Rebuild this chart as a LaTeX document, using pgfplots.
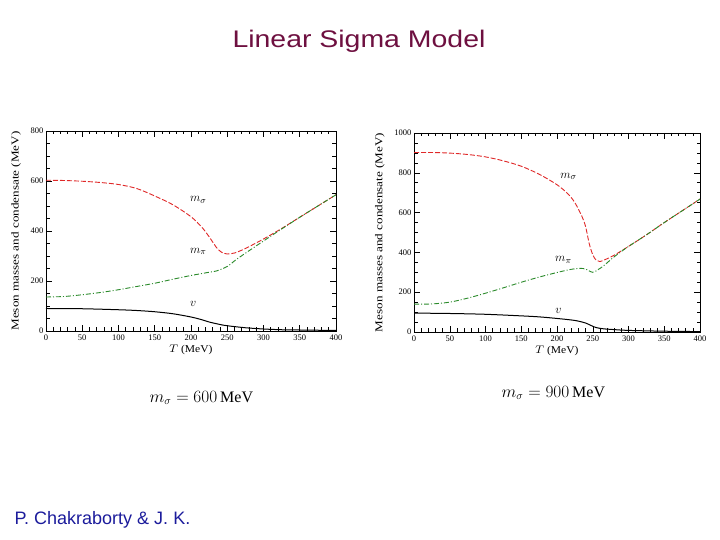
\documentclass[border=0pt]{standalone}
\usepackage{pgfplots}
\pgfplotsset{compat=1.18}
\usepackage{fontspec}
\setmainfont{Liberation Serif}
\newfontfamily\slidefont{Liberation Sans}
\definecolor{titlecol}{HTML}{6E1040}
\definecolor{authcol}{HTML}{1C1C9C}
\definecolor{sigred}{HTML}{E02828}
\definecolor{pigreen}{HTML}{2A8A2A}

\tikzset{curvelabel/.style={font=\fontsize{13}{14}\selectfont}}

\pgfplotsset{
  mesonaxis/.style={
    scale only axis,
    anchor=south west,
    xmin=0, xmax=400,
    ymin=0,
    xtick={0,50,...,400},
    minor x tick num=4,
    minor y tick num=3,
    tick align=inside,
    major tick length=6pt,
    minor tick length=3.5pt,
    every tick/.style={black, line width=0.5pt},
    axis line style={line width=0.6pt},
    /pgf/number format/assume math mode=true,
    /pgf/number format/1000 sep={},
    tick label style={font=\fontsize{8.5}{9}\selectfont},
    xticklabel style={yshift=0pt},
    yticklabel style={xshift=1pt},
    xlabel={$T$ (MeV)},
    ylabel={Meson masses and condensate (MeV)},
    label style={font=\fontsize{10.5}{11}\selectfont},
    xlabel style={yshift=2pt, xscale=1.1},
    ylabel style={yshift=3pt, xscale=1.25},
  },
  sig/.style={sigred, line width=0.9pt, dash pattern=on 5pt off 2pt, smooth, no marks},
  pion/.style={pigreen, line width=0.9pt, dash pattern=on 5pt off 2pt on 1pt off 2pt, smooth, no marks},
  cond/.style={black, line width=1pt, smooth, no marks},
}

\begin{document}
\begin{tikzpicture}
\path[use as bounding box, fill=white] (0pt,0pt) rectangle (720pt,540pt);

\node[font=\slidefont\fontsize{24}{26}\selectfont, text=titlecol, xscale=1.185] at (359pt,499pt) {Linear Sigma Model};
\node[font=\slidefont\fontsize{18}{20}\selectfont, text=authcol, anchor=west] at (11pt,20pt) {P. Chakraborty \& J. K.};

% m_sigma = 600 MeV
\begin{axis}[mesonaxis, at={(46pt,209pt)}, width=290pt, height=200pt,
  ymax=800, ytick={0,200,...,800}]
\addplot[sig] coordinates {(0,603)(25,602)(50,599)(75,594)(100,586)(125,570)(150,540)(175,505)(200,457)(215,415)(225,377)(237,327)(245,311)(250,308)(260,312)(275,330)(300,368)(325,410)(350,455)(375,500)(400,545)};
\addplot[pion] coordinates {(0,136)(25,138)(50,145)(75,154)(100,165)(125,178)(150,191)(175,207)(200,222)(225,235)(235,240)(250,258)(262,285)(275,311)(300,360)(325,408)(350,455)(375,500)(400,545)};
\addplot[cond] coordinates {(0,90)(50,89)(100,85)(125,82)(150,77)(175,69)(200,56)(215,45)(225,36)(240,26)(250,21)(275,13)(300,8)(325,5)(350,4)(400,2)};
\node[curvelabel] at (axis cs:210,523) {$m_\sigma$};
\node[curvelabel] at (axis cs:210,318) {$m_\pi$};
\node[curvelabel] at (axis cs:203,108) {$v$};
\end{axis}

% m_sigma = 900 MeV
\begin{axis}[mesonaxis, at={(414pt,208pt)}, width=286pt, height=199pt,
  ymax=1000, ytick={0,200,...,1000}]
\addplot[sig] coordinates {(0,902)(25,902)(50,899)(75,892)(100,880)(125,860)(150,833)(175,793)(200,740)(215,695)(225,650)(235,580)(240,530)(245,445)(250,388)(255,360)(260,354)(270,368)(280,386)(300,430)(325,488)(350,550)(375,609)(400,668)};
\addplot[pion] coordinates {(0,140)(25,141)(50,150)(75,170)(100,195)(125,222)(150,250)(175,276)(200,299)(220,315)(232,320)(240,316)(250,300)(258,315)(265,332)(280,378)(300,430)(325,488)(350,550)(375,609)(400,668)};
\addplot[cond] coordinates {(0,95)(50,93)(100,89)(150,81)(175,76)(200,68)(225,58)(240,45)(248,32)(255,22)(265,16)(280,12)(300,8)(350,4)(400,2)};
\node[curvelabel] at (axis cs:216,782) {$m_\sigma$};
\node[curvelabel] at (axis cs:209,362) {$m_\pi$};
\node[curvelabel] at (axis cs:202,108) {$v$};
\end{axis}

\node[font=\fontsize{16}{18}\selectfont, anchor=west] at (146pt,142pt) {$m_\sigma = 600\,\mathrm{MeV}$};
\node[font=\fontsize{16}{18}\selectfont, anchor=west] at (498pt,147pt) {$m_\sigma = 900\,\mathrm{MeV}$};
\end{tikzpicture}
\end{document}
